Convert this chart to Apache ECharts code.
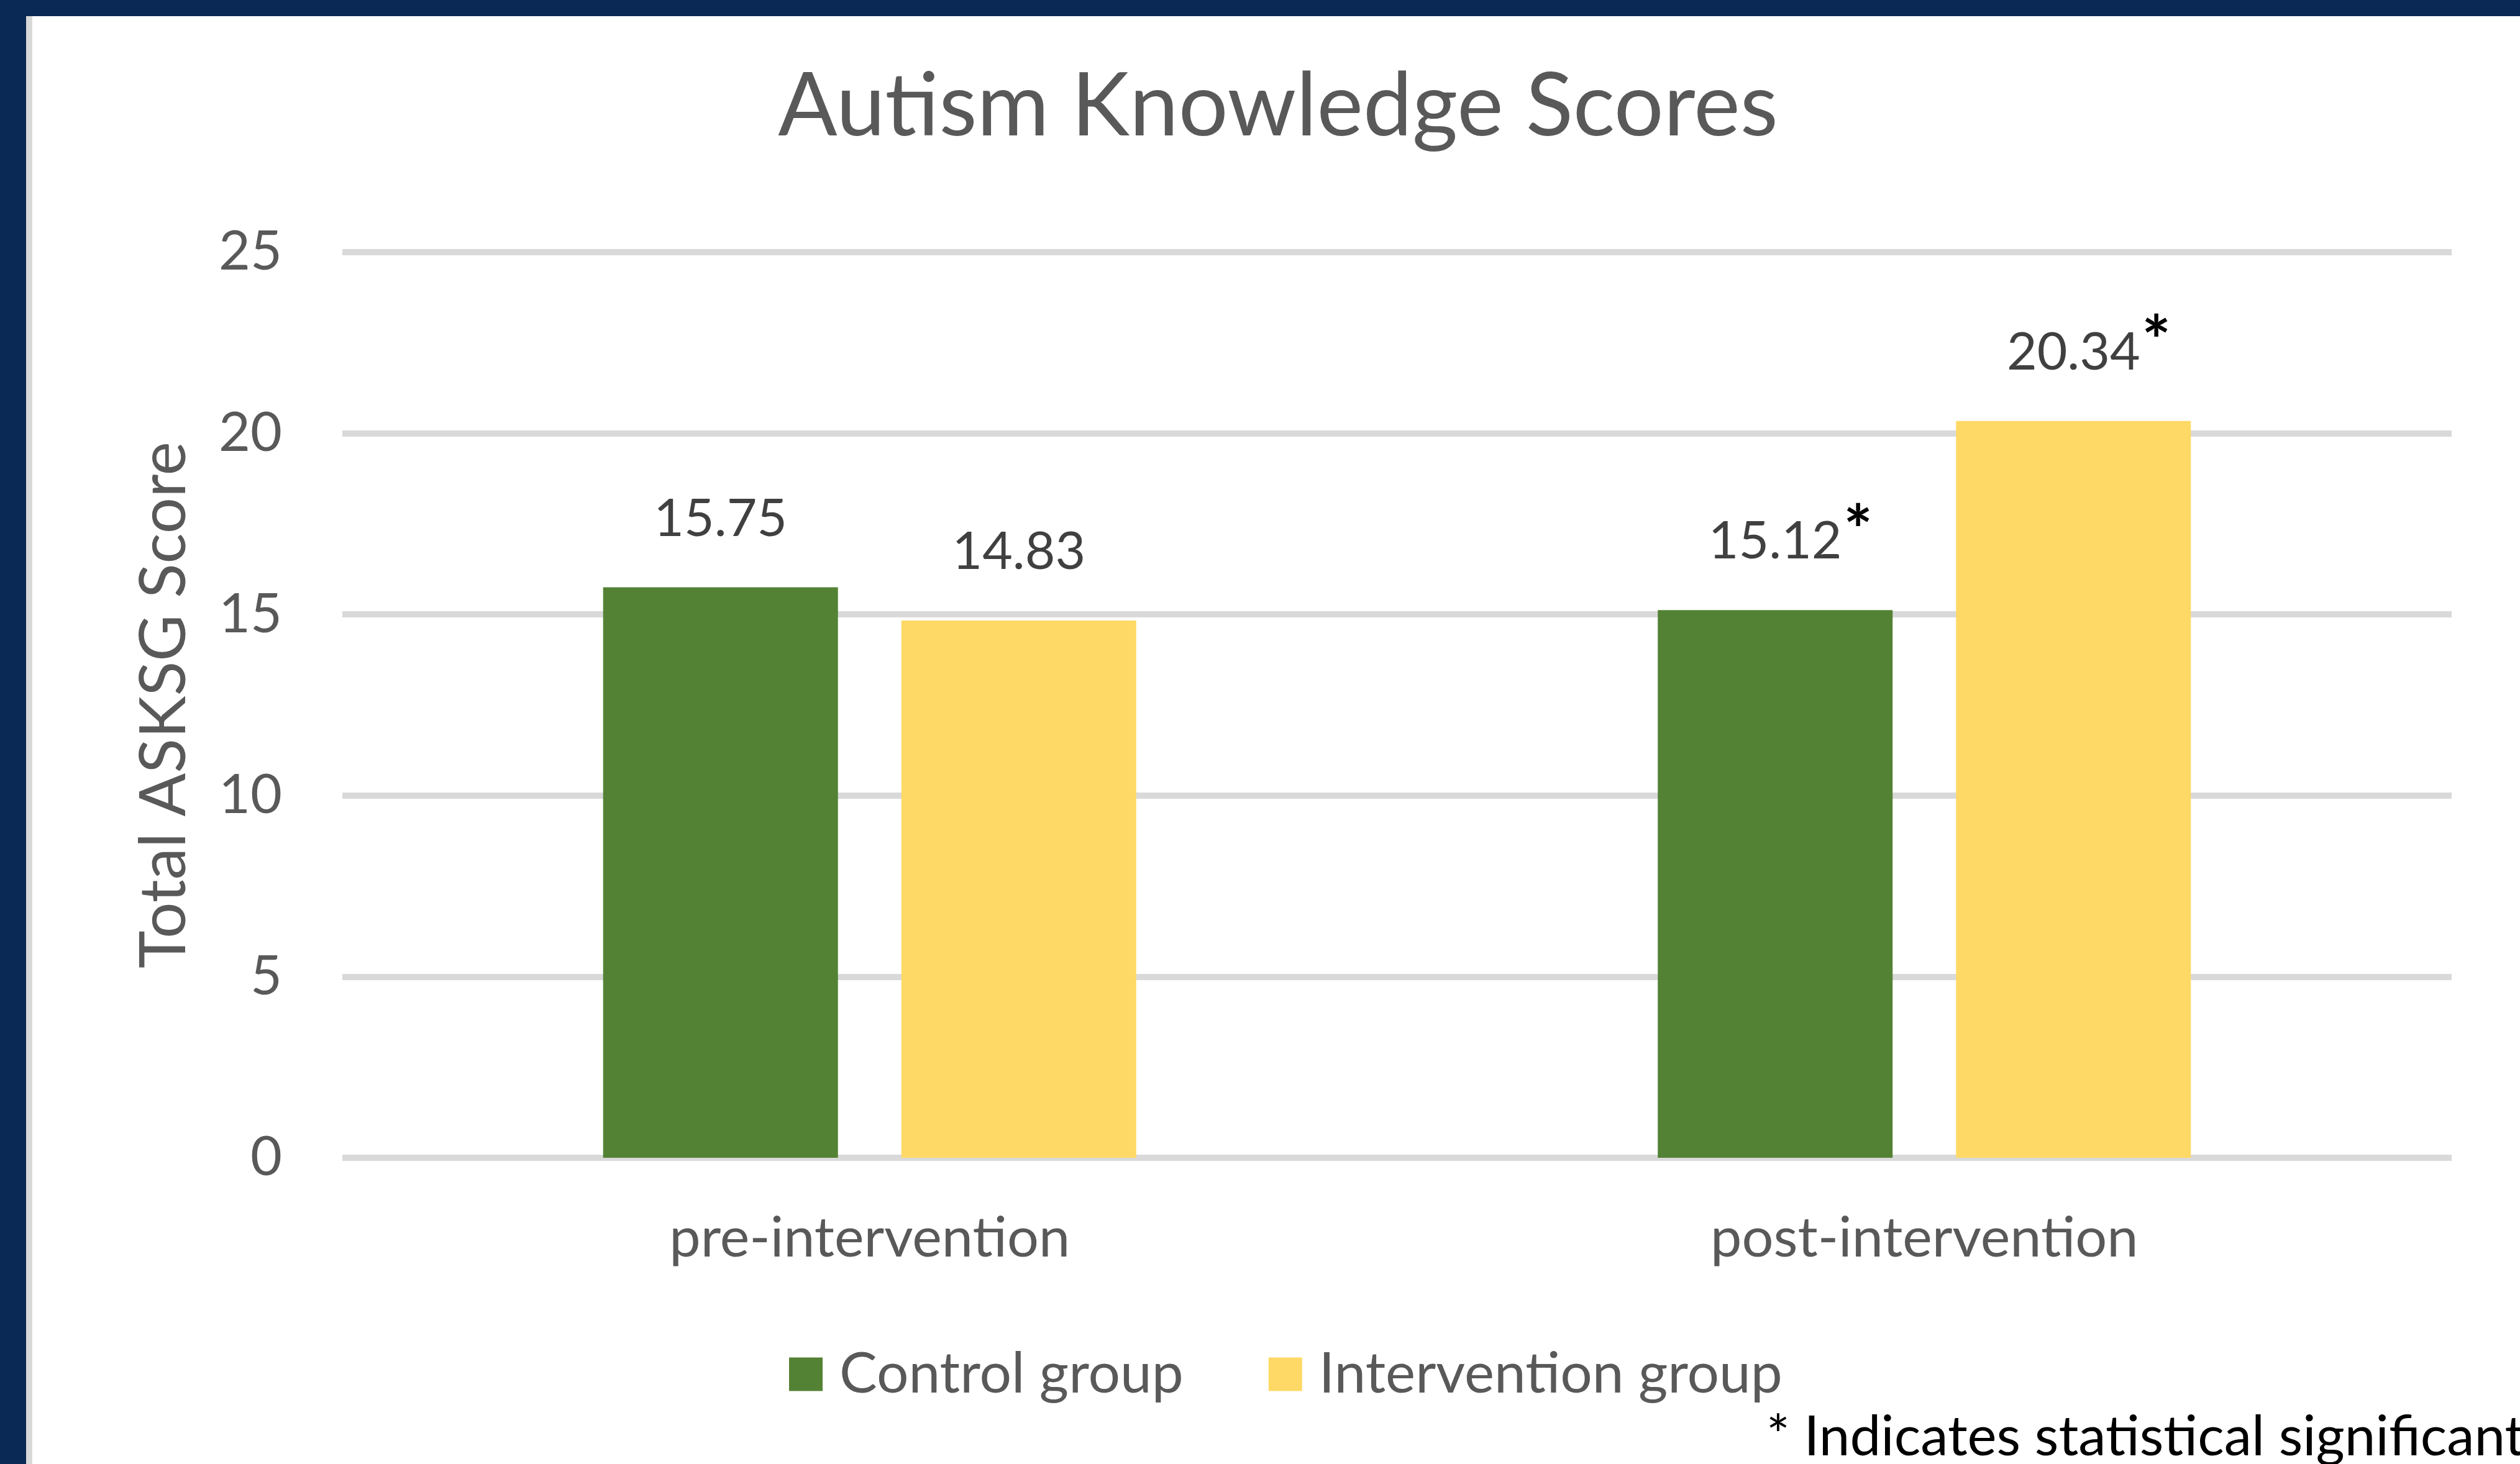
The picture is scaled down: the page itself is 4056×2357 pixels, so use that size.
<!DOCTYPE html>
<html>
<head>
<meta charset="utf-8">
<script src="https://cdn.jsdelivr.net/npm/echarts@6/dist/echarts.min.js"></script>
<style>
  html, body { margin: 0; padding: 0; background: #ffffff; }
  #chart { width: 4056px; height: 2357px; }
</style>
</head>
<body>
<div id="chart"></div>
<script>
// ---- data ----
const categories = ['pre-intervention', 'post-intervention'];
const seriesNames = ['Control group', 'Intervention group'];
const controlValues = [15.75, 15.12];
const interventionValues = [14.83, 20.34];
const controlSignificant = [false, true];
const interventionSignificant = [false, true];
const yTicks = [0, 5, 10, 15, 20, 25];
const chartTitle = 'Autism Knowledge Scores';
const yAxisTitle = 'Total ASKSG Score';
const footnote = '* Indicates statistical significant';

const FONT = 'Lato';
const GREY = '#595959';

function labelFormatter(sigArr) {
  return function (p) {
    const v = Number(p.value).toFixed(2);
    return sigArr[p.dataIndex] ? '{p|}{v|' + v + '}{s|*}' : '{v|' + v + '}';
  };
}
const labelRich = {
  v: { fontFamily: FONT, fontSize: 84, color: '#404040', lineHeight: 90, verticalAlign: 'bottom' },
  s: { fontFamily: FONT, fontSize: 110, fontWeight: 'bold', color: '#000000', width: 44, lineHeight: 90, verticalAlign: 'bottom', padding: [0, 0, 2, 4] },
  p: { width: 48, lineHeight: 90 }
};

const chart = echarts.init(document.getElementById('chart'), null, { renderer: 'canvas' });
chart.setOption({
  animation: false,
  backgroundColor: '#ffffff',
  title: {
    text: chartTitle,
    left: 2057,
    textAlign: 'center',
    top: 102,
    padding: 0,
    textStyle: { fontFamily: FONT, fontSize: 141, fontWeight: 'normal', color: GREY, lineHeight: 141 }
  },
  graphic: [
    { type: 'rect', shape: { x: 0, y: 0, width: 4056, height: 26 }, style: { fill: '#0a2a55' }, silent: true },
    { type: 'rect', shape: { x: 0, y: 0, width: 42, height: 2357 }, style: { fill: '#0a2a55' }, silent: true },
    { type: 'rect', shape: { x: 42, y: 26, width: 10, height: 2331 }, style: { fill: '#d9d9d9' }, silent: true },
    { type: 'text', left: 2843, top: 2270, style: { text: footnote, fontFamily: FONT, fontSize: 89, fill: '#000000' }, silent: true }
  ],
  legend: {
    data: seriesNames,
    left: 1265,
    top: 2162,
    itemWidth: 54,
    itemHeight: 54,
    itemGap: 137,
    icon: 'rect',
    textStyle: { fontFamily: FONT, fontSize: 91, color: GREY, lineHeight: 91, padding: [0, 0, 0, 22] }
  },
  grid: { left: 551, right: 110, top: 406, bottom: 493, containLabel: false },
  xAxis: {
    type: 'category',
    data: categories,
    axisLine: { show: false },
    axisTick: { show: false },
    axisLabel: { fontFamily: FONT, fontSize: 90, color: GREY, margin: 85 }
  },
  yAxis: {
    type: 'value',
    min: yTicks[0],
    max: yTicks[yTicks.length - 1],
    interval: 5,
    name: yAxisTitle,
    nameLocation: 'middle',
    nameRotate: 90,
    nameGap: 235,
    nameTextStyle: { fontFamily: FONT, fontSize: 103, color: GREY },
    axisLine: { show: false },
    axisTick: { show: false },
    axisLabel: { fontFamily: FONT, fontSize: 88, color: GREY, margin: 97 },
    splitLine: { lineStyle: { color: '#d9d9d9', width: 10 } }
  },
  series: [
    {
      name: seriesNames[0],
      type: 'bar',
      data: controlValues,
      barWidth: 378,
      barGap: '27%',
      itemStyle: { color: '#548235' },
      label: { show: true, position: 'top', distance: 68, formatter: labelFormatter(controlSignificant), rich: labelRich }
    },
    {
      name: seriesNames[1],
      type: 'bar',
      data: interventionValues,
      barWidth: 378,
      barGap: '27%',
      itemStyle: { color: '#ffd966' },
      label: { show: true, position: 'top', distance: 68, formatter: labelFormatter(interventionSignificant), rich: labelRich }
    }
  ]
});
</script>
</body>
</html>
